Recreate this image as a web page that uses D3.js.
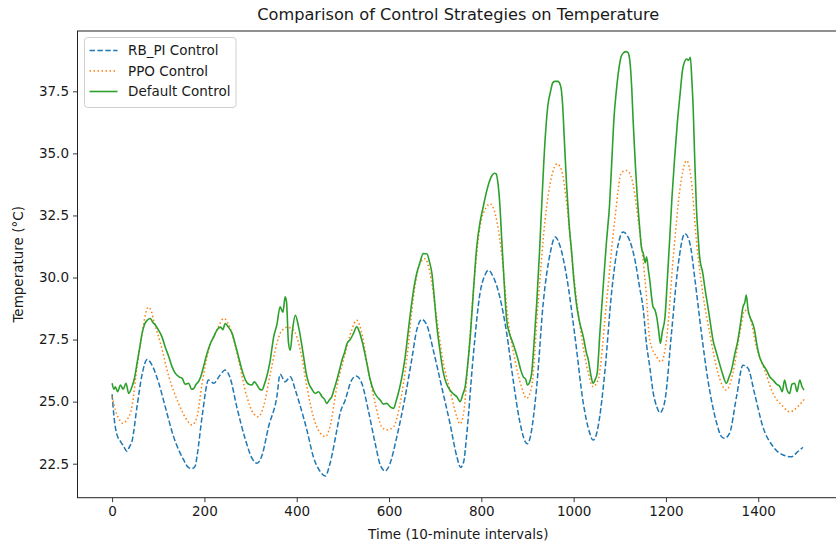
<!DOCTYPE html>
<html>
<head>
<meta charset="utf-8">
<script src="https://cdn.jsdelivr.net/npm/d3@7"></script>
<style>
html,body{margin:0;padding:0;background:#fff;}
svg{display:block;font-family:"DejaVu Sans",sans-serif;}
</style>
</head>
<body>
<svg id="chart" width="836" height="543"></svg>
<script>
// ---------- data ----------
const seriesNames = ["RB_PI Control", "PPO Control", "Default Control"];
const xTicks = [0, 200, 400, 600, 800, 1000, 1200, 1400];
const yTicks = [22.5, 25.0, 27.5, 30.0, 32.5, 35.0, 37.5];

const rbpiT = [0,4,10,18,25,32,38,43,54,65,76,87,101,115,133,155,165,173,180,184,195,209,215,220,234,245,256,270,289,303,314,325,339,357,364,375,386,397,408,422,436,451,462,472,487,494,505,519,529,541,555,570,581,592,597,602,617,635,649,660,671,682,696,714,732,747,755,762,768,783,797,808,815,826,840,855,869,884,895,900,905,920,934,949,960,970,985,1003,1021,1035,1042,1048,1053,1068,1082,1097,1107,1118,1133,1143,1151,1158,1165,1172,1180,1187,1193,1198,1212,1226,1241,1252,1263,1277,1291,1310,1320,1327,1338,1353,1367,1378,1392,1410,1432,1454,1472,1486,1497];
const rbpiV = [25.3,24.4,23.7,23.4,23.2,23.0,23.2,23.4,24.8,26.1,26.7,26.45,25.75,24.8,23.6,22.65,22.35,22.3,22.4,22.8,24.4,25.87,25.8,25.74,26.07,26.27,25.94,24.8,23.46,22.72,22.52,22.85,23.99,25.2,26.1,25.8,26.0,25.47,24.8,23.86,22.78,22.18,22.0,22.5,23.86,24.53,25.06,25.87,26.03,25.74,24.66,23.32,22.45,22.2,22.3,22.5,23.59,25.2,26.67,27.88,28.31,28.08,27.07,25.6,24.13,22.78,22.35,22.6,23.6,26.94,29.35,30.1,30.29,30.02,29.22,27.75,25.87,24.13,23.39,23.3,23.5,25.6,28.95,30.96,31.63,31.3,30.02,27.61,24.93,23.73,23.45,23.6,23.99,26.27,29.35,31.37,31.83,31.63,30.69,29.6,28.7,27.3,26.4,25.4,24.8,24.55,24.7,25.06,27.75,30.42,31.77,31.37,29.89,27.75,25.87,24.13,23.6,23.52,23.73,25.2,26.47,26.34,25.33,23.99,23.19,22.85,22.78,22.99,23.16];

const ppoT = [0,7,15,22,32,43,54,65,72,78,84,90,105,123,144,162,173,184,195,209,227,242,256,274,292,306,317,328,343,357,364,370,379,393,408,422,436,451,462,472,487,505,519,530,541,555,570,584,595,610,624,639,653,667,678,689,703,718,732,747,754,762,770,783,797,810,819,830,844,858,873,887,898,909,923,938,952,964,974,985,999,1014,1032,1042,1053,1071,1089,1104,1115,1126,1140,1150,1158,1165,1180,1190,1201,1216,1230,1245,1255,1266,1280,1295,1313,1331,1345,1360,1371,1382,1396,1414,1432,1454,1468,1486,1501];
const ppoV = [25.2,24.66,24.3,24.13,24.26,24.8,26.4,27.75,28.5,28.8,28.7,28.28,27.34,26.0,24.93,24.26,24.06,24.39,25.74,27.07,27.88,28.35,27.95,26.67,25.2,24.53,24.39,24.8,26.14,27.34,27.75,27.9,28.0,27.88,27.07,25.6,24.39,23.73,23.59,23.99,25.6,26.94,27.88,28.28,27.75,26.27,24.93,23.99,23.86,23.99,24.93,26.8,29.22,30.56,30.76,30.16,28.41,26.54,25.47,24.39,24.1,24.6,26.3,29.5,32.03,32.8,32.97,32.57,30.96,28.28,26.67,25.6,25.13,25.6,28.95,32.3,34.04,34.58,34.31,32.97,30.29,28.01,26.14,25.6,25.87,28.95,32.3,34.24,34.31,33.98,32.3,30.8,29.2,27.47,26.8,26.6,27.47,30.83,33.51,34.71,33.91,31.5,29.35,27.75,26.14,25.47,26.14,27.75,28.68,28.41,27.21,26.27,25.33,24.8,24.59,24.8,25.13];

const defT = [0,4,7,12,18,24,30,36,43,48,54,60,65,70,76,83,88,94,100,108,115,123,130,137,145,152,158,166,172,177,182,187,192,198,205,213,220,227,235,240,245,252,260,267,274,281,289,296,303,308,314,320,325,330,335,342,350,357,364,370,375,378,382,386,391,397,404,410,415,420,426,433,440,447,455,460,465,470,476,481,487,493,498,504,509,516,523,530,536,541,547,552,559,566,574,581,588,595,602,610,615,620,628,635,642,649,655,660,667,674,682,688,693,698,703,710,718,725,732,740,747,754,760,765,770,776,783,790,797,804,812,818,823,828,832,836,840,844,848,852,855,860,866,873,880,885,891,896,900,905,909,914,920,926,931,938,944,950,955,960,966,972,976,980,985,990,996,1001,1006,1013,1021,1028,1032,1037,1042,1047,1051,1057,1064,1071,1078,1083,1087,1093,1098,1103,1108,1114,1118,1122,1126,1129,1133,1137,1143,1147,1151,1155,1158,1162,1165,1169,1172,1176,1180,1184,1188,1192,1198,1203,1208,1213,1219,1225,1230,1237,1245,1249,1253,1256,1259,1262,1266,1270,1273,1280,1285,1291,1296,1302,1309,1316,1323,1331,1337,1342,1349,1356,1362,1367,1371,1374,1378,1382,1387,1392,1397,1403,1410,1418,1425,1432,1440,1447,1452,1457,1462,1468,1473,1479,1484,1490,1495,1499];
const defV = [25.74,25.5,25.6,25.4,25.67,25.5,25.74,25.33,25.6,25.9,26.54,27.2,27.75,28.1,28.28,28.35,28.2,28.08,27.9,27.61,27.2,26.8,26.4,26.14,26.0,25.94,25.7,25.74,25.5,25.53,25.7,25.8,26.0,26.4,26.9,27.34,27.6,27.88,28.0,27.9,28.15,28.0,27.75,27.3,26.8,26.3,25.87,25.7,25.67,25.8,25.67,25.5,25.47,25.7,26.0,26.6,27.6,28.1,28.82,28.6,29.22,29.0,27.4,27.07,27.9,28.48,28.01,27.4,26.8,26.2,25.74,25.5,25.33,25.4,25.2,25.1,24.93,25.05,25.2,25.5,25.87,26.3,26.67,27.0,27.34,27.5,27.75,28.01,27.8,27.48,27.0,26.54,25.9,25.47,25.2,25.06,24.9,24.93,24.8,24.73,25.0,25.33,26.0,26.8,27.9,28.95,29.7,30.16,30.6,30.96,30.96,30.6,30.16,29.2,28.15,27.1,26.14,25.7,25.47,25.3,25.2,25.0,25.3,25.6,26.4,27.61,29.5,31.23,32.2,32.84,33.51,33.9,34.11,34.2,34.18,33.8,32.97,31.6,30.29,29.0,28.28,27.8,27.48,27.1,26.67,26.3,26.0,25.9,25.67,25.8,26.14,27.3,28.95,31.0,32.97,35.5,36.9,37.5,37.85,37.9,37.9,37.7,37.0,35.5,33.64,32.2,30.96,29.8,28.95,28.2,27.61,26.94,26.67,26.1,25.74,25.9,26.14,27.8,29.62,31.4,32.97,34.8,36.3,37.6,38.4,38.9,39.05,39.1,39.05,38.7,37.6,36.3,34.8,33.5,32.03,31.2,30.96,30.6,30.83,30.3,29.89,29.2,28.82,28.7,28.41,27.9,27.34,27.8,28.41,29.9,31.5,33.2,34.85,36.3,37.26,38.47,38.8,38.75,38.87,38.0,36.86,35.0,32.84,31.6,30.83,30.16,29.5,28.82,28.2,27.48,27.0,26.54,26.1,25.74,26.0,26.27,26.9,27.48,28.2,28.82,29.0,29.29,28.7,28.41,28.2,27.88,27.3,26.8,26.5,26.27,26.0,25.87,25.7,25.6,25.4,25.87,25.5,25.33,25.7,25.74,25.4,25.87,25.6,25.47];

// ---------- layout ----------
const svg = d3.select("#chart");
const L = 77.5, R = 839, T = 31, B = 497.7;
const x = d3.scaleLinear().domain([-75, 1575]).range([L, R]);
const y = d3.scaleLinear().domain([21.13, 39.93]).range([B, T]);
const textColor = "#1a1a1a";

const series = [
  {name: seriesNames[0], t: rbpiT, v: rbpiV, color: "#1f77b4", dash: "5.5,2.4", width: 1.5},
  {name: seriesNames[1], t: ppoT, v: ppoV, color: "#ff7f0e", dash: "1.5,2.5", width: 1.5},
  {name: seriesNames[2], t: defT, v: defV, color: "#2ca02c", dash: null, width: 1.6}
];

const clip = svg.append("defs").append("clipPath").attr("id","plotclip")
  .append("rect").attr("x", L).attr("y", T).attr("width", R-L).attr("height", B-T);

const line = d3.line().x(d => x(d[0])).y(d => y(d[1])).curve(d3.curveMonotoneX);
const plot = svg.append("g").attr("clip-path","url(#plotclip)");
series.forEach(s => {
  const pts = s.t.map((t,i) => [t, s.v[i]]);
  plot.append("path").datum(pts)
    .attr("d", line)
    .attr("fill","none")
    .attr("stroke", s.color)
    .attr("stroke-width", s.width)
    .attr("stroke-dasharray", s.dash)
    .attr("stroke-linejoin","round");
});

// axes
const xAxis = d3.axisBottom(x).tickValues(xTicks).tickSize(4.5).tickPadding(4).tickFormat(d3.format("d"));
const gx = svg.append("g").attr("transform", `translate(0,${B})`).call(xAxis);
const yAxis = d3.axisLeft(y).tickValues(yTicks).tickSize(4.5).tickPadding(4).tickFormat(d3.format(".1f"));
const gy = svg.append("g").attr("transform", `translate(${L},0)`).call(yAxis);
[gx, gy].forEach(g => {
  g.select(".domain").remove();
  g.selectAll(".tick line").attr("stroke", "#222").attr("stroke-width", 0.9);
  g.selectAll(".tick text").attr("fill", textColor).style("font-size","13.5px").style("font-family","DejaVu Sans");
});

// spines
svg.append("rect").attr("x", L).attr("y", T).attr("width", R-L).attr("height", B-T)
  .attr("fill","none").attr("stroke","#222").attr("stroke-width",1);

// title & labels
svg.append("text").attr("x", (L+R)/2).attr("y", 20).attr("text-anchor","middle")
  .attr("fill", textColor).style("font-size","16.2px").text("Comparison of Control Strategies on Temperature");
svg.append("text").attr("x", (L+R)/2).attr("y", 539).attr("text-anchor","middle")
  .attr("fill", textColor).style("font-size","13.5px").text("Time (10-minute intervals)");
svg.append("text").attr("transform", `translate(23,${(T+B)/2}) rotate(-90)`).attr("text-anchor","middle")
  .attr("fill", textColor).style("font-size","13.5px").text("Temperature (°C)");

// legend
const lg = svg.append("g");
lg.append("rect").attr("x", 84.5).attr("y", 37.5).attr("width", 151.5).attr("height", 70)
  .attr("rx", 3).attr("fill","#fff").attr("fill-opacity",0.8).attr("stroke","#d0d0d0").attr("stroke-width",1);
const ly = [50.5, 71, 91.5];
series.forEach((s,i) => {
  lg.append("line").attr("x1", 89.5).attr("x2", 117.5).attr("y1", ly[i]).attr("y2", ly[i])
    .attr("stroke", s.color).attr("stroke-width", s.width).attr("stroke-dasharray", s.dash);
  lg.append("text").attr("x", 128).attr("y", ly[i]).attr("dy","0.36em")
    .attr("fill", textColor).style("font-size","13.5px").text(s.name);
});
</script>
</body>
</html>
